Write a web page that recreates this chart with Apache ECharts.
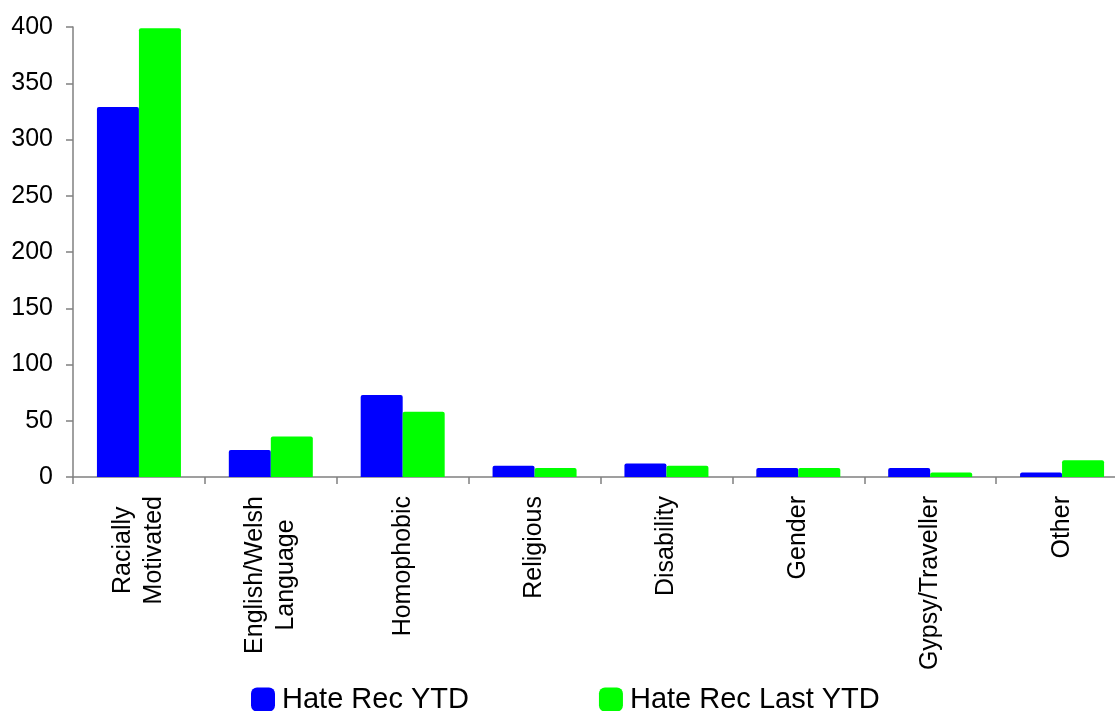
<!DOCTYPE html>
<html>
<head>
<meta charset="utf-8">
<script src="https://cdn.jsdelivr.net/npm/echarts@6/dist/echarts.min.js"></script>
<style>html,body{margin:0;padding:0;background:#fff;}#c{width:1115px;height:711px;}</style>
</head>
<body>
<div id="c"></div>
<script>
const categories = ["Racially\nMotivated", "English/Welsh\nLanguage", "Homophobic", "Religious", "Disability", "Gender", "Gypsy/Traveller", "Other"];
const hateRecYTD = [329, 24, 73, 10, 12, 8, 8, 4];
const hateRecLastYTD = [399, 36, 58, 8, 10, 8, 4, 15];
const seriesNames = ["Hate Rec YTD", "Hate Rec Last YTD"];

const FONT = "'Liberation Sans', Arial, sans-serif";
const chart = echarts.init(document.getElementById('c'), null, {renderer: 'canvas'});
chart.setOption({
  animation: false,
  backgroundColor: '#ffffff',
  textStyle: {fontFamily: FONT},
  grid: {left: 73, top: 27, bottom: 234, right: -13, containLabel: false, outerBoundsMode: 'none'},
  legend: {
    top: 680, left: 246, padding: 5,
    itemWidth: 24, itemHeight: 24, itemGap: 130,
    icon: 'roundRect',
    textStyle: {fontFamily: FONT, fontSize: 29, color: '#000', padding: [0, 0, 0, 2]},
    data: seriesNames
  },
  xAxis: {
    type: 'category',
    data: categories,
    axisLine: {lineStyle: {color: '#808080', width: 1.5}},
    axisTick: {show: true, length: 7, lineStyle: {color: '#808080', width: 1.5}},
    axisLabel: {
      rotate: 90, margin: 19, fontSize: 25, color: '#000', fontFamily: FONT,
      interval: 0, lineHeight: 31,
      formatter: function (v) { return v.split('\n').map(function (s) { return '{c|' + s + '}'; }).join('\n'); },
      rich: {c: {align: 'center', fontSize: 25, fontFamily: FONT, color: '#000', lineHeight: 31}}
    }
  },
  yAxis: {
    type: 'value', min: 0, max: 400, interval: 50,
    splitLine: {show: false},
    axisLine: {show: true, lineStyle: {color: '#808080', width: 1.5}},
    axisTick: {show: true, length: 7, lineStyle: {color: '#808080', width: 1.5}},
    axisLabel: {fontSize: 25, color: '#000', margin: 20, fontFamily: FONT}
  },
  series: [
    {name: seriesNames[0], type: 'bar', data: hateRecYTD, barWidth: 42, barGap: '0%',
     itemStyle: {color: '#0000ff', borderRadius: [2, 2, 0, 0]}},
    {name: seriesNames[1], type: 'bar', data: hateRecLastYTD, barWidth: 42, barGap: '0%',
     itemStyle: {color: '#00ff00', borderRadius: [2, 2, 0, 0]}}
  ]
});
</script>
</body>
</html>
